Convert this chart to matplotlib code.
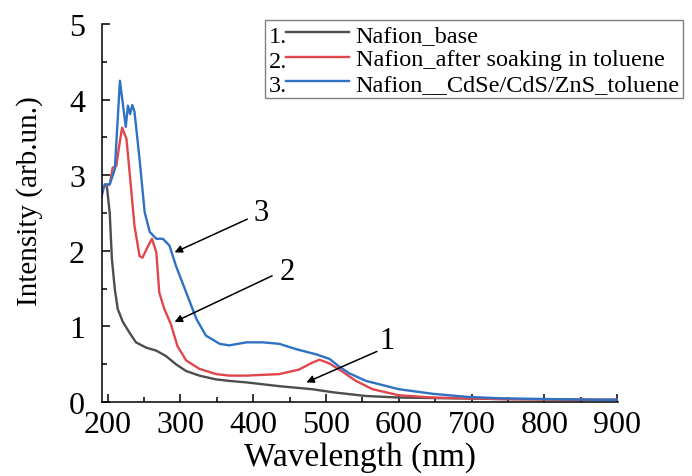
import matplotlib
matplotlib.use("Agg")
import matplotlib.pyplot as plt
from matplotlib.legend_handler import HandlerLine2D
from matplotlib.text import Text
from matplotlib.ticker import MultipleLocator

plt.rcParams['font.family'] = ['Liberation Serif', 'DejaVu Serif']

# spectra (wavelength nm, intensity arb.un.)
wl_base = [199, 203, 206, 210, 214, 221, 230, 239, 253, 267, 280, 294, 308, 326,
           349, 367, 391, 436, 481, 509, 555, 600, 738, 875, 900]
int_base = [2.86, 2.50, 1.89, 1.49, 1.23, 1.06, 0.92, 0.79, 0.72, 0.68, 0.61, 0.50,
            0.41, 0.35, 0.30, 0.28, 0.26, 0.21, 0.17, 0.13, 0.08, 0.06, 0.04, 0.03, 0.03]

wl_soak = [194, 203, 207, 212, 216, 220, 226, 232, 237, 244, 248, 255, 261, 267,
           271, 278, 287, 296, 308, 326, 349, 367, 391, 436, 463, 481, 491, 505,
           523, 541, 564, 600, 646, 738, 875, 900]
int_soak = [2.84, 2.88, 3.10, 3.12, 3.39, 3.63, 3.48, 2.86, 2.33, 1.93, 1.91, 2.05,
            2.16, 1.98, 1.45, 1.23, 1.03, 0.74, 0.55, 0.44, 0.37, 0.35, 0.35, 0.37,
            0.43, 0.52, 0.56, 0.51, 0.40, 0.28, 0.17, 0.09, 0.06, 0.04, 0.03, 0.03]

wl_qd = [191, 196, 203, 210, 217, 225, 228, 231, 234, 237, 244, 251, 258, 267, 276,
         285, 294, 308, 322, 335, 354, 367, 391, 413, 436, 459, 487, 505, 518, 532,
         555, 600, 646, 692, 738, 806, 875, 900]
int_qd = [2.69, 2.88, 2.88, 3.08, 4.25, 3.64, 3.92, 3.81, 3.93, 3.84, 3.21, 2.51,
          2.25, 2.16, 2.16, 2.07, 1.80, 1.45, 1.10, 0.88, 0.77, 0.75, 0.79, 0.79,
          0.77, 0.70, 0.63, 0.57, 0.47, 0.38, 0.28, 0.17, 0.11, 0.07, 0.05, 0.04,
          0.03, 0.03]

labels = ['Nafion_base', 'Nafion_after soaking in toluene', 'Nafion__CdSe/CdS/ZnS_toluene']
numbers = ['1.', '2.', '3.']
colors = ['#4d4d4d', '#e0474c', '#2f72c4']

# curve number labels: (text pos), (arrow tail), (arrow tip)
marks = [('1', (584, 0.81), (570, 0.67), (473, 0.26)),
         ('2', (447, 1.73), (426, 1.67), (292, 1.06)),
         ('3', (411, 2.51), (392, 2.42), (292, 1.98))]


class NumberedLine(HandlerLine2D):
    """legend handle with the number written in front of the line"""
    def __init__(self, num, **kw):
        super().__init__(**kw)
        self.num = num

    def create_artists(self, legend, orig_handle, xdescent, ydescent, width,
                       height, fontsize, trans):
        lead = 0.72 * fontsize
        arts = super().create_artists(legend, orig_handle, xdescent - lead, ydescent,
                                      width - lead, height, fontsize, trans)
        # nudge down so the number sits on the label's baseline
        txt = Text(-xdescent, -ydescent - 0.07 * fontsize, self.num, fontsize=fontsize,
                   va='baseline', ha='left', family='Liberation Serif')
        txt.set_transform(trans)
        return list(arts) + [txt]


fig = plt.figure(figsize=(6.92, 4.77), dpi=100)
ax = fig.add_axes([0.147, 0.155, 0.746, 0.7925])

lines = []
for wl, val, c in zip([wl_base, wl_soak, wl_qd], [int_base, int_soak, int_qd], colors):
    ln, = ax.plot(wl, val, color=c, lw=1.7)
    lines.append(ln)

ax.set_xlim(192, 901)
ax.set_ylim(0, 5)
ax.xaxis.set_major_locator(MultipleLocator(100))
ax.xaxis.set_minor_locator(MultipleLocator(50))
ax.yaxis.set_major_locator(MultipleLocator(1))
ax.yaxis.set_minor_locator(MultipleLocator(0.5))
ax.tick_params(which='both', direction='in', width=1.1, labelsize=23)
ax.tick_params(which='major', length=6)
ax.tick_params(which='minor', length=3.5)
ax.tick_params(axis='x', pad=6)
ax.tick_params(axis='y', pad=12)
for s in ['top', 'right']:
    ax.spines[s].set_visible(False)
for s in ['left', 'bottom']:
    ax.spines[s].set_linewidth(1.1)

ax.set_xlabel('Wavelength (nm)', fontsize=24)
ax.set_ylabel('Intensity (arb.un.)', fontsize=21)
ax.xaxis.set_label_coords(0.5, -0.145)
ax.xaxis.label.set_va('center')
ax.yaxis.set_label_coords(-0.1395, 0.534)
ax.yaxis.label.set_va('center')

for num, tpos, tail, tip in marks:
    ax.text(tpos[0], tpos[1], num, fontsize=22, ha='center', va='center')
    ax.annotate('', xy=tip, xytext=tail,
                arrowprops=dict(arrowstyle='-|>', color='black', lw=1.1,
                                mutation_scale=11, shrinkA=0, shrinkB=0))

hmap = {ln: NumberedLine(n) for ln, n in zip(lines, numbers)}
leg = ax.legend(lines, labels, handler_map=hmap, loc='upper left',
                bbox_to_anchor=(265 / 692, 1 - 21 / 477), bbox_transform=fig.transFigure,
                fancybox=False, edgecolor='#808080', framealpha=1,
                borderpad=0.15, borderaxespad=0, handlelength=3.3, handletextpad=0.28,
                labelspacing=0.1, prop={'family': 'Liberation Serif', 'size': 17.5})
leg.get_frame().set_linewidth(1.0)

fig.savefig('out.png', dpi=100)
